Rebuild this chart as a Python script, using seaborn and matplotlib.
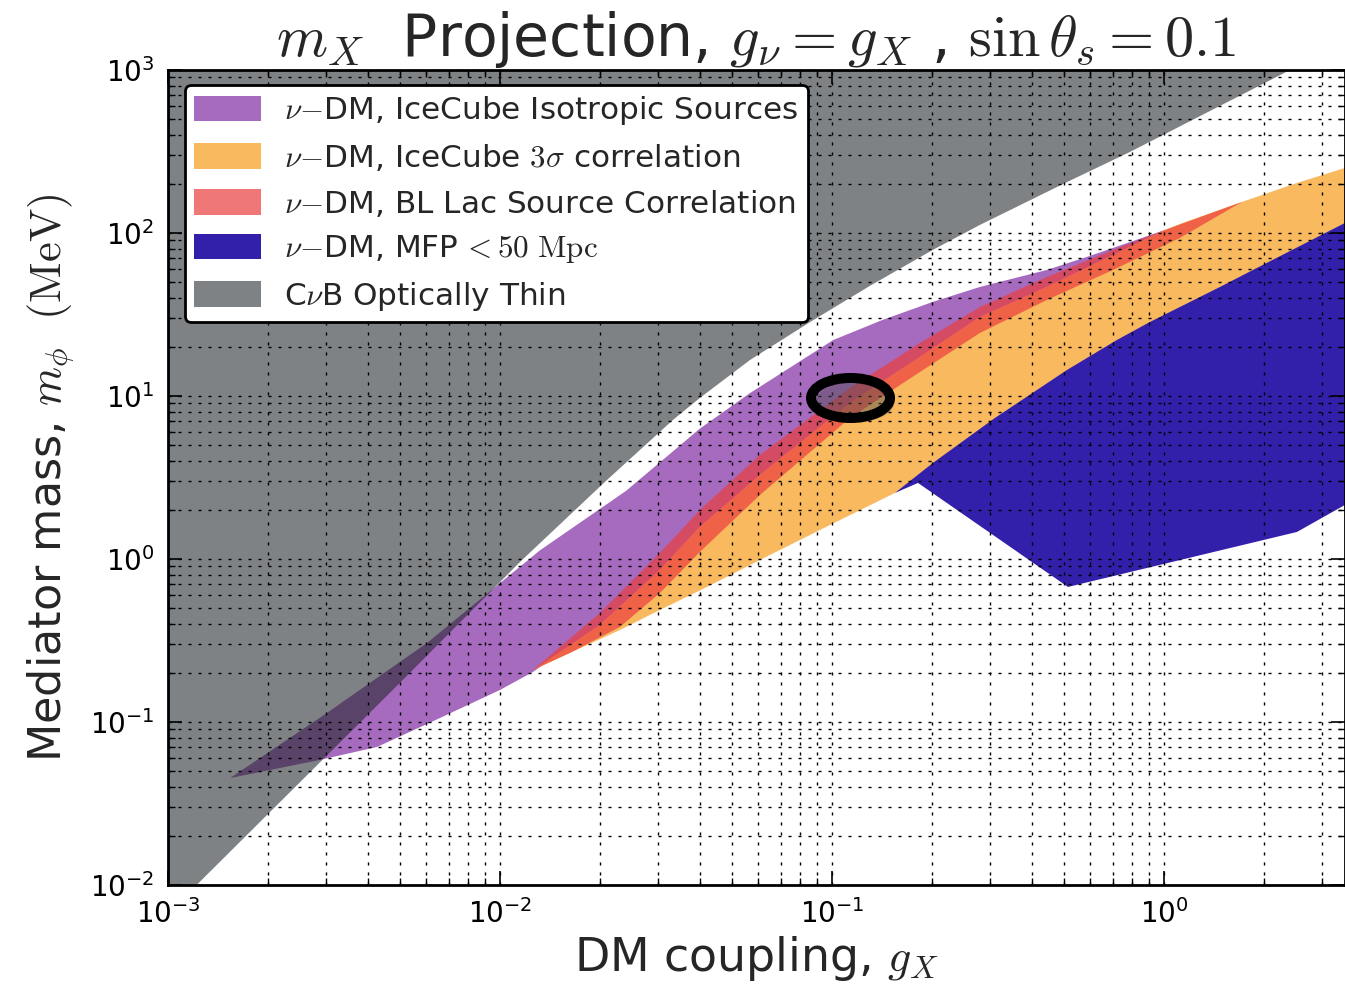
import numpy as np
import matplotlib
matplotlib.use("Agg")
import matplotlib.pyplot as plt
import matplotlib.patheffects as pe
from matplotlib.patches import Ellipse
from matplotlib.ticker import LogLocator, NullFormatter
import seaborn as sns

# ---------------- data ----------------
# C-nu-B optically thin region (upper-left)
x_cnb = [1.0e-3, 1.22e-3, 5.0e-3, 1.15e-2, 2.10e-2, 3.32e-2, 4.00e-2, 5.66e-2,
         8.59e-2, 0.130, 0.201, 0.279, 0.510, 0.790, 2.40, 1.0e-3]
y_cnb = [1.0e-2, 1.0e-2, 0.174, 0.960, 3.05, 7.13, 9.72, 16.6,
         28.4, 47.3, 78.6, 112.0, 205.0, 314.0, 1000.0, 1000.0]

# IceCube isotropic sources band
x_iso_up = [1.54e-3, 3.01e-3, 6.03e-3, 1.32e-2, 2.40e-2, 4.00e-2,
            5.66e-2, 0.101, 0.142, 0.201, 0.279, 0.444, 0.598, 1.007]
y_iso_up = [0.0453, 0.1135, 0.3053, 1.130, 2.620, 6.300,
            10.40, 22.06, 29.26, 37.73, 46.63, 59.29, 72.26, 104.3]
x_iso_lo = [1.54e-3, 2.87e-3, 4.26e-3, 6.60e-3, 1.00e-2, 1.257e-2, 2.00e-2, 3.03e-2,
            4.00e-2, 6.07e-2, 0.1133, 0.1841, 0.2791, 0.4442, 0.7023, 1.007]
y_iso_lo = [0.0453, 0.0585, 0.0702, 0.1058, 0.1571, 0.2026, 0.3937, 0.8561,
            1.571, 3.276, 9.060, 17.35, 30.52, 46.63, 73.28, 104.3]

# IceCube 3 sigma correlation band
x_3s_up = [1.257e-2, 2.00e-2, 3.03e-2, 4.00e-2, 6.07e-2, 0.1133, 0.1841, 0.2791,
           0.4442, 0.7023, 1.007, 1.117, 1.718, 2.515, 3.51]
y_3s_up = [0.2084, 0.3937, 0.8561, 1.571, 3.276, 9.060, 17.35, 30.52,
           46.63, 73.28, 104.3, 113.6, 155.0, 202.6, 250.5]
x_3s_lo = [1.257e-2, 2.298e-2, 3.033e-2, 4.201e-2, 6.069e-2, 9.863e-2, 0.1548,
           0.1816, 0.3206, 0.9074, 3.51]
y_3s_lo = [0.2084, 0.3667, 0.4865, 0.6733, 0.9861, 1.616, 2.541,
           3.010, 5.371, 16.63, 59.29]

# BL Lac source correlation band
x_bl_up = [1.257e-2, 2.00e-2, 3.033e-2, 4.002e-2, 6.069e-2, 0.1133, 0.1841, 0.2791,
           0.4442, 0.7023, 1.007, 1.718]
y_bl_up = [0.2084, 0.4664, 1.089, 1.998, 4.345, 11.20, 21.14, 35.16,
           53.71, 78.64, 104.3, 155.0]
x_bl_lo = [1.625e-2, 2.298e-2, 3.033e-2, 4.002e-2, 6.069e-2, 0.1133, 0.1841, 0.2791,
           0.4442, 0.7023, 1.117]
y_bl_lo = [0.2651, 0.3827, 0.6185, 1.105, 2.470, 7.328, 14.03, 24.35,
           38.82, 59.29, 93.2]

# MFP < 50 Mpc region
x_mfp = [0.1548, 0.2014, 0.3097, 0.5103, 0.7219, 0.9074, 1.475, 1.854, 3.51,
         3.51, 2.515, 0.5139, 0.1816]
y_mfp = [2.541, 3.882, 7.328, 14.43, 22.06, 28.44, 46.63, 59.29, 115.2,
         2.145, 1.464, 0.6733, 2.927]

labels = [r"$\nu{-}$DM, IceCube Isotropic Sources",
          r"$\nu{-}$DM, IceCube $3\sigma$ correlation",
          r"$\nu{-}$DM, BL Lac Source Correlation",
          r"$\nu{-}$DM, MFP$\,{<}50\ \mathrm{Mpc}$",
          r"C$\nu$B Optically Thin"]
colors = ["#a66abe", "#f9b95f", "#eb3f3f", "#3320aa", "#23282c"]
alphas = [1.0, 1.0, 0.71, 1.0, 0.58]

# ---------------- style ----------------
sns.set_theme(style="ticks")
plt.rcParams.update({
    "font.family": ["DejaVu Sans"],
    "mathtext.fontset": "cm",
    "xtick.direction": "in", "ytick.direction": "in",
    "xtick.top": True, "ytick.right": True,
    "xtick.major.size": 10, "ytick.major.size": 10,
    "xtick.minor.size": 5, "ytick.minor.size": 5,
    "xtick.major.width": 1.2, "ytick.major.width": 1.2,
    "xtick.minor.width": 1.0, "ytick.minor.width": 1.0,
    "xtick.color": "black", "ytick.color": "black",
    "axes.edgecolor": "black", "axes.linewidth": 2.0,
})

fig = plt.figure(figsize=(13.45, 9.88), dpi=100)
ax = fig.add_axes([0.1249, 0.1043, 0.8751, 0.8249])
ax.set_xscale("log")
ax.set_yscale("log")

ax.fill(np.r_[x_iso_up, x_iso_lo[::-1]], np.r_[y_iso_up, y_iso_lo[::-1]],
        color=colors[0], alpha=alphas[0], lw=0, label=labels[0], zorder=1)
ax.fill(np.r_[x_3s_up, x_3s_lo[::-1]], np.r_[y_3s_up, y_3s_lo[::-1]],
        color=colors[1], alpha=alphas[1], lw=0, label=labels[1], zorder=1.1)
ax.fill(np.r_[x_bl_up, x_bl_lo[::-1]], np.r_[y_bl_up, y_bl_lo[::-1]],
        color=colors[2], alpha=alphas[2], lw=0, label=labels[2], zorder=1.2)
ax.fill(x_mfp, y_mfp, color=colors[3], alpha=alphas[3], lw=0,
        label=labels[3], zorder=1.3)
ax.fill(x_cnb, y_cnb, color=colors[4], alpha=alphas[4], lw=0,
        label=labels[4], zorder=1.4)

ax.set_xlim(1e-3, 3.51)
ax.set_ylim(1e-2, 1e3)
for axis in (ax.xaxis, ax.yaxis):
    axis.set_major_locator(LogLocator(base=10, numticks=20))
    axis.set_minor_locator(LogLocator(base=10, subs=np.arange(2, 10), numticks=20))
    axis.set_minor_formatter(NullFormatter())
ax.set_axisbelow(False)
ax.grid(True, which="both", color="black", linestyle=(0, (2.2, 5)), linewidth=1.0)
ax.tick_params(axis="both", which="major", labelsize=20, pad=10)

# highlight ring
ring = Ellipse((0.5799, 0.5975), 0.0671, 0.0491, transform=ax.transAxes,
               fill=False, edgecolor="black", lw=7.2, zorder=6)
ring.set_path_effects([pe.SimplePatchShadow(offset=(3, -3), alpha=0.45),
                       pe.Normal()])
ax.add_patch(ring)

ax.set_title(r"$m_X$  Projection, $g_\nu = g_X$ , $\sin\theta_s = 0.1$",
             fontsize=42, pad=2)
ax.set_xlabel(r"DM coupling, $g_X$", fontsize=33, labelpad=4)
ax.set_ylabel(r"Mediator mass, $m_\phi\ \ (\mathrm{MeV})$", fontsize=32, labelpad=10)

leg = ax.legend(loc="upper left", bbox_to_anchor=(0.0144, 0.9816), borderaxespad=0,
                fontsize=22.4, handlelength=2.15, handleheight=0.9,
                handletextpad=0.75, labelspacing=0.47, borderpad=0.3,
                fancybox=True, framealpha=1.0, edgecolor="black")
leg.get_frame().set_linewidth(2.0)
leg.set_zorder(10)

fig.savefig("out.png", dpi=100)
